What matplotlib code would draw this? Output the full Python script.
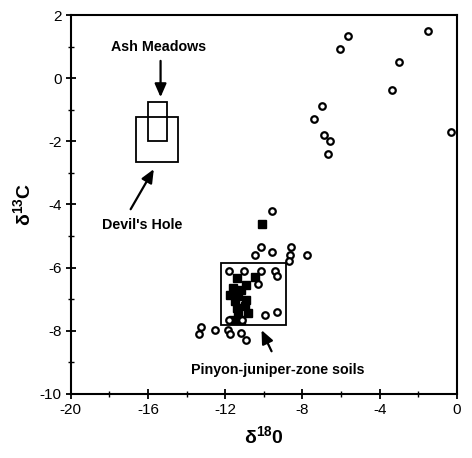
import matplotlib
matplotlib.use("Agg")
import matplotlib.pyplot as plt
from matplotlib.patches import Rectangle
from matplotlib.ticker import MultipleLocator
from matplotlib import font_manager

# Open circles (d18O, d13C)
circ_x = [-5.66, -6.06, -1.52, -2.99, -3.37, -7.01, -7.39, -6.86, -6.55, -6.70, -0.28,
          -9.60, -10.16, -10.47, -9.60, -8.57, -8.65, -8.70, -7.79,
          -11.80, -11.04, -10.16, -9.43, -9.31, -10.30, -9.95, -9.31,
          -11.83, -11.14, -13.26, -13.35, -12.52, -11.85, -11.76, -11.16, -10.93]
circ_y = [1.34, 0.92, 1.50, 0.52, -0.38, -0.89, -1.29, -1.80, -1.99, -2.39, -1.71,
          -4.20, -5.36, -5.59, -5.51, -5.36, -5.59, -5.78, -5.59,
          -6.10, -6.10, -6.10, -6.10, -6.28, -6.51, -7.50, -7.41,
          -7.67, -7.67, -7.87, -8.09, -7.99, -7.97, -8.09, -8.07, -8.28]

# Filled squares
sq_x = [-10.12, -11.41, -10.47, -10.90, -11.59, -11.16, -11.76, -11.33, -10.90,
        -11.50, -11.41, -10.98, -10.81, -11.33, -11.59, -11.16]
sq_y = [-4.61, -6.33, -6.30, -6.54, -6.65, -6.70, -6.86, -6.91, -7.02,
        -7.07, -7.28, -7.23, -7.44, -7.49, -7.65, -7.67]

# Range boxes: (x0, x1, y0, y1)
box_names = ["Ash Meadows", "Devil's Hole", "Pinyon-juniper-zone soils"]
box_x0 = [-16.0, -16.6, -12.2]
box_x1 = [-15.0, -14.47, -8.83]
box_y0 = [-2.0, -2.64, -7.82]
box_y1 = [-0.75, -1.22, -5.84]

plt.rcParams["axes.unicode_minus"] = False
plt.rcParams["mathtext.fontset"] = "custom"
plt.rcParams["mathtext.rm"] = "Liberation Sans"
plt.rcParams["mathtext.bf"] = "Liberation Sans:bold"


def have(fam):
    try:
        font_manager.findfont(font_manager.FontProperties(family=fam), fallback_to_default=False)
        return True
    except Exception:
        return False


if have("Liberation Sans Narrow"):
    lbl_font = dict(family=["Liberation Sans Narrow", "DejaVu Sans"], fontweight="bold", fontsize=11.5)
else:
    lbl_font = dict(family=["Liberation Sans", "DejaVu Sans"], fontweight="bold", fontsize=10.3)

fig = plt.figure(figsize=(4.72, 4.58), dpi=100)
ax = fig.add_axes([0.150, 0.140, 0.818, 0.827])

for x0, x1, y0, y1 in zip(box_x0, box_x1, box_y0, box_y1):
    ax.add_patch(Rectangle((x0, y0), x1 - x0, y1 - y0, fill=False, ec="black", lw=1.3))

ax.plot(sq_x, sq_y, ls="none", marker="s", ms=5.5, mfc="black", mec="black")
ax.plot(circ_x, circ_y, ls="none", marker="o", ms=4.7, mfc="white", mec="black", mew=1.6)

arrow = dict(arrowstyle="-|>,head_length=0.8,head_width=0.35", color="black", lw=1.6, shrinkA=0, shrinkB=0)
ax.text(-15.45, 1.0, box_names[0], ha="center", va="center", **lbl_font)
ax.annotate("", xy=(-15.35, -0.6), xytext=(-15.35, 0.55), arrowprops=arrow)
ax.text(-16.3, -4.65, box_names[1], ha="center", va="center", **lbl_font)
ax.annotate("", xy=(-15.7, -2.88), xytext=(-16.9, -4.15), arrowprops=arrow)
ax.text(-9.3, -9.25, box_names[2], ha="center", va="center", **lbl_font)
ax.annotate("", xy=(-10.12, -7.98), xytext=(-9.6, -8.65), arrowprops=arrow)

ax.set_xlim(-20, 0)
ax.set_ylim(-10, 2)
ax.xaxis.set_major_locator(MultipleLocator(4))
ax.xaxis.set_minor_locator(MultipleLocator(2))
ax.yaxis.set_major_locator(MultipleLocator(2))
ax.yaxis.set_minor_locator(MultipleLocator(1))
ax.tick_params(which="major", direction="inout", length=7, width=1.3, labelsize=11, pad=3)
ax.tick_params(which="minor", direction="inout", length=4, width=1.0)
for lab in ax.get_xticklabels() + ax.get_yticklabels():
    lab.set_family(["Liberation Sans", "DejaVu Sans"])
for s in ax.spines.values():
    s.set_linewidth(1.5)

ax.set_xlabel(r"$\mathbf{\delta^{18}0}$", fontsize=14, labelpad=6)
ax.set_ylabel(r"$\mathbf{\delta^{13}C}$", fontsize=14, labelpad=4)

fig.savefig("out.png", dpi=100)
